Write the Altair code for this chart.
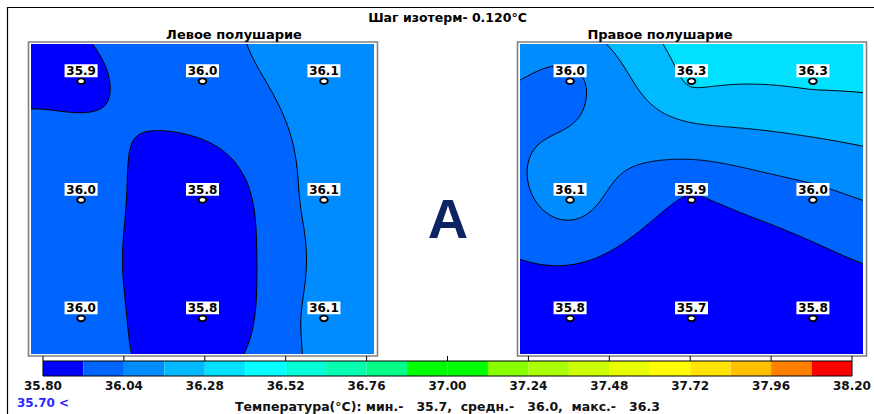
import numpy as np
import pandas as pd
import altair as alt

# ---- measurements -------------------------------------------------------
# electrode grid, as fractions of the mapped field (x to the right, y downward)
electrode_x = [0.146, 0.5, 0.854]
electrode_y = [0.12, 0.503, 0.885]

# temperatures, row by row from the top row
left_temps = [35.9, 36.0, 36.1,
              36.0, 35.8, 36.1,
              36.0, 35.8, 36.1]
right_temps = [36.0, 36.3, 36.3,
               36.1, 35.9, 36.0,
               35.8, 35.7, 35.8]

panel_names = ["Левое полушарие", "Правое полушарие"]
panel_letter = "A"
chart_title = "Шаг изотерм- 0.120°C"
NB = "\u00a0"
axis_title = (f"Температура(°C): мин.-{NB * 3}35.7,{NB * 2}средн.-{NB * 3}36.0,"
              f"{NB * 2}макс.-{NB * 3}36.3")
below_label = "35.70 <"

# ---- colour scale ---------------------------------------------------------
scale_min, scale_max, isotherm_step = 35.80, 38.20, 0.12
bin_colors = ["#0000ff", "#0064ff", "#008cff", "#00b9ff", "#00e1ff",
              "#00ffff", "#00ffd6", "#00ffb0", "#00ff88", "#00ff00",
              "#00ff00", "#88ff00", "#aaff00", "#ccff00", "#e8ff00",
              "#ffff00", "#ffe400", "#ffc000", "#ff8000", "#ff0000"]
tick_values = [35.80, 36.04, 36.28, 36.52, 36.76, 37.00,
               37.24, 37.48, 37.72, 37.96, 38.20]
n_bins = len(bin_colors)

# ---- canvas layout (pixels) -----------------------------------------------
W, H = 874, 414
panel_x_ranges = [(31, 374), (520, 863)]
panel_y_range = (44, 354)
bar_x_range = (43, 852)
bar_top, bar_bottom = 361, 376

FONT = "DejaVu Sans"


def kriged(values, aspect, qx, qy):
    """Kriging with a linear variogram and a linear drift through the readings."""
    ex, ey = np.meshgrid(electrode_x, electrode_y)
    px, py = ex.ravel() * aspect, ey.ravel()
    v = np.asarray(values, float)
    n = len(v)
    K = -np.hypot(px[:, None] - px[None, :], py[:, None] - py[None, :])
    P = np.column_stack([np.ones(n), px, py])
    A = np.zeros((n + 3, n + 3))
    A[:n, :n], A[:n, n:], A[n:, :n] = K, P, P.T
    coef = np.linalg.solve(A, np.concatenate([v, np.zeros(3)]))
    w, a = coef[:n], coef[n:]
    gx = qx * aspect
    r = np.hypot(gx[..., None] - px, qy[..., None] - py)
    return -r @ w + a[0] + a[1] * gx + a[2] * qy


def band_runs(values, nx, ny, aspect):
    """Colour bands of the map as horizontal runs, one pixel row at a time."""
    qx, qy = np.meshgrid((np.arange(nx) + 0.5) / nx, (np.arange(ny) + 0.5) / ny)
    f = kriged(values, aspect, qx, qy)
    bins = np.clip(np.floor((f - scale_min) / isotherm_step + 1e-9), 0, n_bins - 1).astype(int)
    recs = []
    for r in range(ny):
        row = bins[r]
        cuts = np.flatnonzero(np.diff(row)) + 1
        for s, e in zip(np.r_[0, cuts], np.r_[cuts, nx]):
            recs.append({"x": s / nx, "x2": e / nx, "y": r / ny, "y2": (r + 1) / ny, "bin": int(row[s])})
    return pd.DataFrame(recs)


def isotherms(values, aspect, nx=172, ny=156):
    """Isotherm segments by marching squares."""
    xs, ys = np.linspace(0, 1, nx), np.linspace(0, 1, ny)
    gx, gy = np.meshgrid(xs, ys)
    f = kriged(values, aspect, gx, gy)
    a, b, c, d = f[:-1, :-1], f[:-1, 1:], f[1:, 1:], f[1:, :-1]
    lo = np.minimum(np.minimum(a, b), np.minimum(c, d))
    hi = np.maximum(np.maximum(a, b), np.maximum(c, d))
    segs = []
    for k in range(1, n_bins):
        lv = scale_min + k * isotherm_step
        for j, i in zip(*np.nonzero((lo < lv) & (hi > lv))):
            corners = [(xs[i], ys[j], f[j, i]), (xs[i + 1], ys[j], f[j, i + 1]),
                       (xs[i + 1], ys[j + 1], f[j + 1, i + 1]), (xs[i], ys[j + 1], f[j + 1, i])]
            pts = []
            for m in range(4):
                x1, y1, v1 = corners[m]
                x2, y2, v2 = corners[(m + 1) % 4]
                if (v1 - lv) * (v2 - lv) < 0:
                    t = (lv - v1) / (v2 - v1)
                    pts.append((x1 + t * (x2 - x1), y1 + t * (y2 - y1)))
            for p in range(0, len(pts) - 1, 2):
                segs.append({"x": pts[p][0], "y": pts[p][1], "x2": pts[p + 1][0], "y2": pts[p + 1][1]})
    return pd.DataFrame(segs)


band_color = alt.Color("bin:O", scale=alt.Scale(domain=list(range(n_bins)), range=bin_colors), legend=None)


def panel(values, x_range):
    nx = x_range[1] - x_range[0]
    ny = panel_y_range[1] - panel_y_range[0]
    aspect = nx / ny
    sx = alt.Scale(domain=[0, 1], range=list(x_range), nice=False, zero=False)
    sy = alt.Scale(domain=[0, 1], range=list(panel_y_range), nice=False, zero=False)
    X = lambda f: alt.X(f, type="quantitative", scale=sx, axis=None)
    Y = lambda f: alt.Y(f, type="quantitative", scale=sy, axis=None)

    bands = alt.Chart(band_runs(values, nx, ny, aspect)).mark_rect(strokeWidth=0).encode(
        x=X("x"), x2="x2", y=Y("y"), y2="y2", color=band_color)
    lines = alt.Chart(isotherms(values, aspect)).mark_rule(color="black", strokeWidth=1).encode(
        x=X("x"), x2="x2", y=Y("y"), y2="y2")
    frame = alt.Chart(pd.DataFrame({"k": [0]})).mark_rect(
        filled=False, stroke="#808080", strokeWidth=1.6).encode(
        x=alt.value(x_range[0] - 2.5), x2=alt.value(x_range[1] + 3.5),
        y=alt.value(panel_y_range[0] - 2), y2=alt.value(panel_y_range[1] + 2))

    ex, ey = np.meshgrid(electrode_x, electrode_y)
    pts = pd.DataFrame({"x": ex.ravel(), "y": ey.ravel(), "t": values})
    base = alt.Chart(pts).encode(x=X("x"), y=Y("y"))
    marker = base.mark_point(shape="M-1,0A1,0.75 0 1,0 1,0A1,0.75 0 1,0 -1,0Z", size=58,
                             fill="white", stroke="black", strokeWidth=1.9, opacity=1,
                             fillOpacity=1, strokeOpacity=1)
    box = base.mark_point(shape="M-1,-0.39H1V0.39H-1Z", size=1089, filled=True, color="white",
                          opacity=1, strokeWidth=0, yOffset=-10.5)
    label = base.mark_text(font=FONT, fontSize=12, fontWeight="bold", color="black",
                           baseline="alphabetic", dy=-6).encode(
        text=alt.Text("t:Q", format=".1f"))
    return alt.layer(bands, lines, frame, marker, box, label)


left = panel(left_temps, panel_x_ranges[0])
right = panel(right_temps, panel_x_ranges[1])

# ---- colour bar -------------------------------------------------------------
edges = scale_min + isotherm_step * np.arange(n_bins)
bar_df = pd.DataFrame({"lo": edges, "hi": edges + isotherm_step, "bin": range(n_bins)})
sbar = alt.Scale(domain=[scale_min, scale_max], range=list(bar_x_range), nice=False, zero=False)
XB = lambda f: alt.X(f, type="quantitative", scale=sbar, axis=None)
bar = alt.Chart(bar_df).mark_rect(strokeWidth=0).encode(
    x=XB("lo"), x2="hi", y=alt.value(bar_top), y2=alt.value(bar_bottom), color=band_color)
outline = alt.Chart(pd.DataFrame({"lo": [scale_min], "hi": [scale_max]})).mark_rect(
    filled=False, stroke="black", strokeWidth=1).encode(
    x=XB("lo"), x2="hi", y=alt.value(bar_top), y2=alt.value(bar_bottom))
ticks_df = pd.DataFrame({"lo": tick_values})
ticks = alt.Chart(ticks_df).mark_rule(color="black", strokeWidth=1).encode(
    x=XB("lo"), y=alt.value(bar_top - 5), y2=alt.value(bar_top))
tick_labels = alt.Chart(ticks_df).mark_text(
    font=FONT, fontSize=12, fontWeight="bold", color="#111111", baseline="alphabetic",
    align="center", y=390).encode(x=XB("lo"), text=alt.Text("lo:Q", format=".2f"))
bar_title = alt.Chart(pd.DataFrame({"lo": [(scale_min + scale_max) / 2], "s": [axis_title]})).mark_text(
    font=FONT, fontSize=12.5, fontWeight="bold", color="#111111", baseline="alphabetic",
    align="center", y=411).encode(x=XB("lo"), text="s:N")
below = alt.Chart(pd.DataFrame({"lo": [scale_min], "s": [below_label]})).mark_text(
    font=FONT, fontSize=12, fontWeight="bold", color="#2a2aff", baseline="alphabetic",
    align="center", y=407).encode(x=XB("lo"), text="s:N")
colorbar = alt.layer(bar, outline, ticks, tick_labels, bar_title, below)

# ---- headings and frame -------------------------------------------------------
one = pd.DataFrame({"k": [0]})
title = alt.Chart(one).mark_text(text=chart_title, x=447.5, y=21.5, font=FONT, fontSize=12.5,
                                 fontWeight="bold", color="black", baseline="alphabetic")
sub_l = alt.Chart(one).mark_text(text=panel_names[0], x=234, y=38.5, font=FONT, fontSize=13,
                                 fontWeight="bold", color="black", baseline="alphabetic")
sub_r = alt.Chart(one).mark_text(text=panel_names[1], x=660, y=38.5, font=FONT, fontSize=13,
                                 fontWeight="bold", color="black", baseline="alphabetic")
letter = alt.Chart(one).mark_text(text=panel_letter, x=448, y=238, font="Liberation Sans",
                                  fontSize=56, fontWeight="bold", color="#0c2461",
                                  baseline="alphabetic", align="center")
border_top = alt.Chart(one).mark_rule(color="black", strokeWidth=1.2).encode(
    x=alt.value(7), x2=alt.value(W), y=alt.value(7.5), y2=alt.value(7.5))
border_left = alt.Chart(one).mark_rule(color="black", strokeWidth=1.2).encode(
    x=alt.value(7.5), x2=alt.value(7.5), y=alt.value(7), y2=alt.value(H))

chart = alt.layer(left, right, colorbar, title, sub_l, sub_r, letter, border_top, border_left).resolve_scale(
    x="independent", y="independent"
).properties(
    width=W, height=H, padding=0, autosize="none", background="white"
).configure_view(stroke=None)

chart.save("out.html", embed_options={"renderer": "svg", "actions": False})
